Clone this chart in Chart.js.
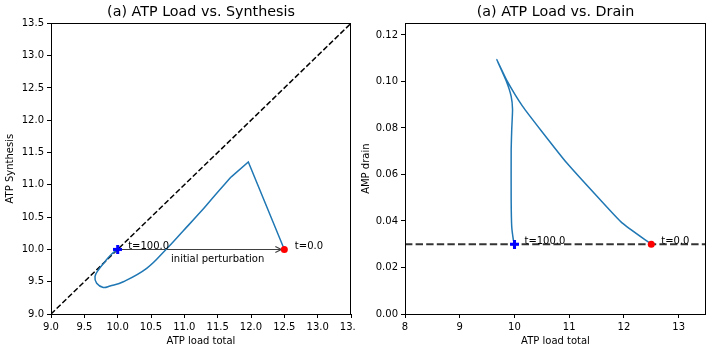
<!DOCTYPE html>
<html>
<head>
<meta charset="utf-8">
<script src="https://cdn.jsdelivr.net/npm/chart.js@4.4.0/dist/chart.umd.min.js"></script>
<style>
  body { margin: 0; background: #fff; }
  #wrap { position: relative; width: 712px; height: 352px; }
  canvas { position: absolute; top: 0; }
  #synthesisChart { left: 0; }
  #drainChart { left: 356px; }
</style>
</head>
<body>
<div id="wrap">
  <canvas id="synthesisChart" width="356" height="352"></canvas>
  <canvas id="drainChart" width="356" height="352"></canvas>
</div>
<script>
// trajectory t = 0 -> 100
// first panel: straight jump up to the corner, then the spiral back in
const jumpLoad  = [12.5, 11.96, 11.70];
const jumpSynth = [10.0, 11.355, 11.12];
const spiralLoad  = [11.70, 11.46, 11.235, 10.985, 10.725, 10.435, 10.085, 9.885, 9.785, 9.685, 9.66, 9.71, 9.81, 9.91, 10.0];
const spiralSynth = [11.12, 10.84, 10.57, 10.29, 10.0, 9.707, 9.50, 9.433, 9.41, 9.475, 9.58, 9.68, 9.81, 9.93, 10.0];

// second panel
const drainLoad  = [12.5, 11.96, 11.567, 10.958, 10.5, 10.15, 9.86, 9.677, 9.85, 9.94, 9.965, 9.95, 9.94, 9.94, 9.95, 9.98, 10.0];
const drainValue = [0.030, 0.0393, 0.0491, 0.0649, 0.0785, 0.0893, 0.1005, 0.1094, 0.1002, 0.0936, 0.0879, 0.0792, 0.0706, 0.049, 0.0376, 0.0319, 0.0301];
const drainBaseline = 0.03;

// t=0.0 and t=100.0 points
const markerLabels = ['t=0.0', 't=100.0'];
const markerLoad   = [12.5, 10.0];
const markerSynth  = [10.0, 10.0];
const markerDrain  = [0.03, 0.03];

const perturbationLabel = 'initial perturbation';
const perturbationText  = [11.5, 9.8];

const FONT = 'DejaVu Sans';
const LINE_BLUE = '#1f77b4';

Chart.defaults.font.family = FONT;
Chart.defaults.color = '#000';

const pts = (xs, ys) => xs.map((x, i) => ({ x, y: ys[i] }));

function plusMarker(color, size) {
    const c = document.createElement('canvas');
    c.width = c.height = size;
    const g = c.getContext('2d');
    g.fillStyle = color;
    const a = size * 0.34;
    g.fillRect((size - a) / 2, 0, a, size);
    g.fillRect(0, (size - a) / 2, size, a);
    return c;
}
const bluePlus = plusMarker('#0000ff', 9);

// frame, arrow and text labels
const annot = {
    id: 'annot',
    beforeDatasetsDraw(chart, args, opts) {
        if (!opts.arrow) return;
        const { x, y } = chart.scales;
        const ctx = chart.ctx;
        const [fx, fy, tx, ty] = opts.arrow;
        const x0 = x.getPixelForValue(fx), y0 = Math.round(y.getPixelForValue(fy)) + 0.5;
        const x1 = x.getPixelForValue(tx) - 3;
        ctx.save();
        ctx.strokeStyle = 'rgba(0,0,0,0.75)';
        ctx.lineWidth = 1.2;
        ctx.beginPath();
        ctx.moveTo(x0, y0);
        ctx.lineTo(x1, y0);
        ctx.moveTo(x1 - 6, y0 - 3);
        ctx.lineTo(x1, y0);
        ctx.lineTo(x1 - 6, y0 + 3);
        ctx.stroke();
        ctx.restore();
    },
    afterDatasetsDraw(chart, args, opts) {
        const { x, y } = chart.scales;
        const ctx = chart.ctx;
        ctx.save();
        ctx.fillStyle = '#000';
        ctx.font = '10px "' + FONT + '"';
        ctx.textBaseline = 'alphabetic';
        (opts.labels || []).forEach(l => {
            ctx.textAlign = l.align || 'left';
            ctx.fillText(l.text, x.getPixelForValue(l.x) + (l.dx || 0), y.getPixelForValue(l.y) + (l.dy || 0));
        });
        const a = chart.chartArea;
        ctx.strokeStyle = '#000';
        ctx.lineWidth = 1;
        ctx.strokeRect(Math.round(a.left) + 0.5, Math.round(a.top) + 0.5,
            Math.round(a.right - a.left) - 1, Math.round(a.bottom - a.top));
        ctx.restore();
    }
};
Chart.register(annot);

function axis(min, max, step, digits, title, fitKey, fitSize) {
    return {
        type: 'linear',
        min, max,
        afterFit: s => {
            s[fitKey] = fitSize;
            // keep edge tick labels from shrinking the plot area
            s.paddingLeft = s.paddingRight = 0;
            s.paddingTop = s.paddingBottom = 0;
        },
        border: { display: false },
        grid: { display: true, drawOnChartArea: false, drawTicks: true, tickLength: 4, tickColor: '#000', tickWidth: 1 },
        ticks: {
            stepSize: step, includeBounds: false, autoSkip: false, maxRotation: 0,
            color: '#000', font: { size: 10 }, padding: 3,
            callback: v => v.toFixed(digits)
        },
        title: { display: true, text: title, color: '#000', font: { size: 10 }, padding: { top: 4, bottom: 5 } }
    };
}

function baseOptions(title, rightPad, xAxis, yAxis, annotOpts) {
    return {
        responsive: false,
        animation: false,
        layout: { padding: { left: 0, right: rightPad, top: 0, bottom: 0 } },
        scales: { x: xAxis, y: yAxis },
        plugins: {
            legend: { display: false },
            tooltip: { enabled: false },
            title: {
                display: true, text: title, fullSize: false, color: '#000',
                font: { size: 14.3, weight: 'normal' }, padding: { top: 4, bottom: 2.2 }
            },
            annot: annotOpts
        }
    };
}

const dashed = (data, width, color, dash) => ({
    data, showLine: true, pointRadius: 0, borderColor: color, borderWidth: width,
    borderDash: dash, order: 5
});
const trajectory = (data, tension) => ({
    data, showLine: true, pointRadius: 0, borderColor: LINE_BLUE, borderWidth: 1.5,
    tension, order: 3
});
const marker = (data, style, color, radius) => ({
    data, showLine: false, pointStyle: style, pointRadius: radius,
    backgroundColor: color, borderColor: color, borderWidth: 0, order: 1
});

new Chart(document.getElementById('synthesisChart'), {
    type: 'scatter',
    data: {
        datasets: [
            dashed(pts([9, 13.5], [9, 13.5]), 1.5, '#000', [5.5, 2.4]),
            trajectory(pts(jumpLoad, jumpSynth), 0),
            trajectory(pts(spiralLoad, spiralSynth), 0.4),
            marker(pts([markerLoad[0]], [markerSynth[0]]), 'circle', '#ff0000', 3.5),
            marker(pts([markerLoad[1]], [markerSynth[1]]), bluePlus, '#0000ff', 4.5)
        ]
    },
    options: baseOptions('(a) ATP Load vs. Synthesis', 5,
        axis(9, 13.5, 0.5, 1, 'ATP load total', 'height', 38),
        axis(9, 13.5, 0.5, 1, 'ATP Synthesis', 'width', 51),
        {
            arrow: [markerLoad[1], markerSynth[1], markerLoad[0], markerSynth[0]],
            labels: [
                { text: markerLabels[0], x: markerLoad[0], y: markerSynth[0], dx: 10.5 },
                { text: markerLabels[1], x: markerLoad[1], y: markerSynth[1], dx: 10.5 },
                { text: perturbationLabel, x: perturbationText[0], y: perturbationText[1], align: 'center' }
            ]
        })
});

new Chart(document.getElementById('drainChart'), {
    type: 'scatter',
    data: {
        datasets: [
            dashed(pts([8, 13.5], [drainBaseline, drainBaseline]), 2, 'rgba(0,0,0,0.8)', [7.4, 3.2]),
            trajectory(pts(drainLoad, drainValue), 0.15),
            marker(pts([markerLoad[0]], [markerDrain[0]]), 'circle', '#ff0000', 3.5),
            marker(pts([markerLoad[1]], [markerDrain[1]]), bluePlus, '#0000ff', 4.5)
        ]
    },
    options: baseOptions('(a) ATP Load vs. Drain', 6,
        axis(8, 13.5, 1, 0, 'ATP load total', 'height', 38),
        axis(0, 0.125, 0.02, 2, 'AMP drain', 'width', 49),
        {
            labels: [
                { text: markerLabels[0], x: markerLoad[0], y: markerDrain[0], dx: 10 },
                { text: markerLabels[1], x: markerLoad[1], y: markerDrain[1], dx: 10 }
            ]
        })
});
</script>
</body>
</html>
